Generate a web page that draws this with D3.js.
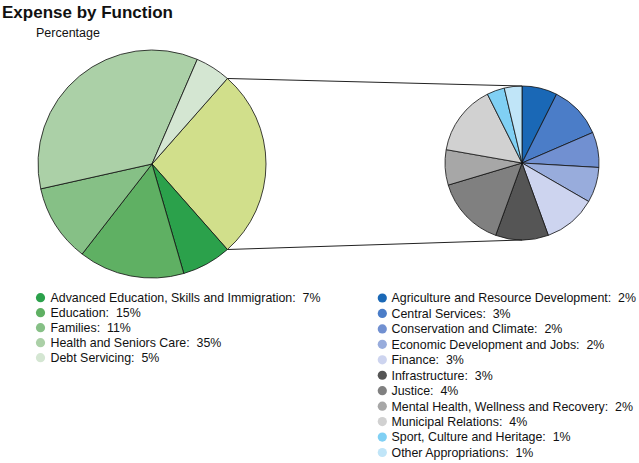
<!DOCTYPE html>
<html><head><meta charset="utf-8">
<script src="https://cdn.jsdelivr.net/npm/d3@7"></script>
<style>
body{margin:0;background:#fff;}
text{font-family:"Liberation Sans",Arial,sans-serif;}
</style></head>
<body><svg id="c" width="639" height="463"></svg>
<script>
const mainCategories = ["Advanced Education, Skills and Immigration","Education","Families","Health and Seniors Care","Debt Servicing"];
const mainValues = [7,15,11,35,5];
const mainColors = ["#2ba14b","#5fb063","#86c086","#abd0a7","#d4e6d2"];
const otherColor = "#d1df8b";
const subCategories = ["Agriculture and Resource Development","Central Services","Conservation and Climate","Economic Development and Jobs","Finance","Infrastructure","Justice","Mental Health, Wellness and Recovery","Municipal Relations","Sport, Culture and Heritage","Other Appropriations"];
const subValues = [2,3,2,2,3,3,4,2,4,1,1];
const subColors = ["#1a68b6","#4b7dc8","#7190d1","#98acdc","#cdd4ef","#555555","#808080","#a7a7a7","#d1d1d1","#80d0f4","#c0e5f8"];

const svg = d3.select("#c");
svg.append("text").attr("x",2).attr("y",17.5).attr("font-size",17).attr("font-weight","bold").attr("fill","#111").text("Expense by Function");
svg.append("text").attr("x",36).attr("y",37).attr("font-size",12.5).attr("fill","#111").text("Percentage");

const otherTotal = d3.sum(subValues);
const bigData = [{name:"Other",value:otherTotal,color:otherColor}].concat(mainCategories.map((c,i)=>({name:c,value:mainValues[i],color:mainColors[i]})));
const total = d3.sum(bigData,d=>d.value);
const otherSpan = otherTotal/total*2*Math.PI;
const start = Math.PI/2 - otherSpan/2;

const bigC = [152,164], bigR = 114;
const smallC = [522,163], smallR = 77;

const bigPie = d3.pie().sort(null).value(d=>d.value).startAngle(start).endAngle(start+2*Math.PI);
const bigArcs = bigPie(bigData);
const arcBig = d3.arc().innerRadius(0).outerRadius(bigR);
const gBig = svg.append("g").attr("transform",`translate(${bigC})`);
gBig.selectAll("path").data(bigArcs).join("path").attr("d",arcBig).attr("fill",d=>d.data.color).attr("stroke","#111").attr("stroke-width",0.8).attr("stroke-linejoin","round");

const subData = subCategories.map((c,i)=>({name:c,value:subValues[i],color:subColors[i]}));
const smallPie = d3.pie().sort(null).value(d=>d.value);
const arcSmall = d3.arc().innerRadius(0).outerRadius(smallR);
const gSmall = svg.append("g").attr("transform",`translate(${smallC})`);
gSmall.selectAll("path").data(smallPie(subData)).join("path").attr("d",arcSmall).attr("fill",d=>d.data.color).attr("stroke","#111").attr("stroke-width",0.8).attr("stroke-linejoin","round");

// connector lines
const o = bigArcs[0];
const pt = a => [bigC[0]+bigR*Math.sin(a), bigC[1]-bigR*Math.cos(a)];
const p1 = pt(o.startAngle), p2 = pt(o.endAngle);
svg.append("line").attr("x1",p1[0]).attr("y1",p1[1]).attr("x2",smallC[0]).attr("y2",smallC[1]-smallR).attr("stroke","#222").attr("stroke-width",1);
svg.append("line").attr("x1",p2[0]).attr("y1",p2[1]).attr("x2",smallC[0]).attr("y2",smallC[1]+smallR).attr("stroke","#222").attr("stroke-width",1);

// legends
const fs = 12.4;
const lg1 = svg.append("g");
mainCategories.forEach((c,i)=>{
  const y = 297.7 + i*15;
  lg1.append("circle").attr("cx",40.5).attr("cy",y).attr("r",4.6).attr("fill",mainColors[i]);
  lg1.append("text").attr("x",50.5).attr("y",y+4.4).attr("font-size",fs).attr("fill","#111").text(`${c}:  ${mainValues[i]}%`).attr("xml:space","preserve");
});
const lg2 = svg.append("g");
subCategories.forEach((c,i)=>{
  const y = 298 + i*15.45;
  lg2.append("circle").attr("cx",382.3).attr("cy",y).attr("r",4.6).attr("fill",subColors[i]);
  lg2.append("text").attr("x",391.5).attr("y",y+4.4).attr("font-size",fs).attr("fill","#111").text(`${c}:  ${subValues[i]}%`).attr("xml:space","preserve");
});
</script></body></html>
